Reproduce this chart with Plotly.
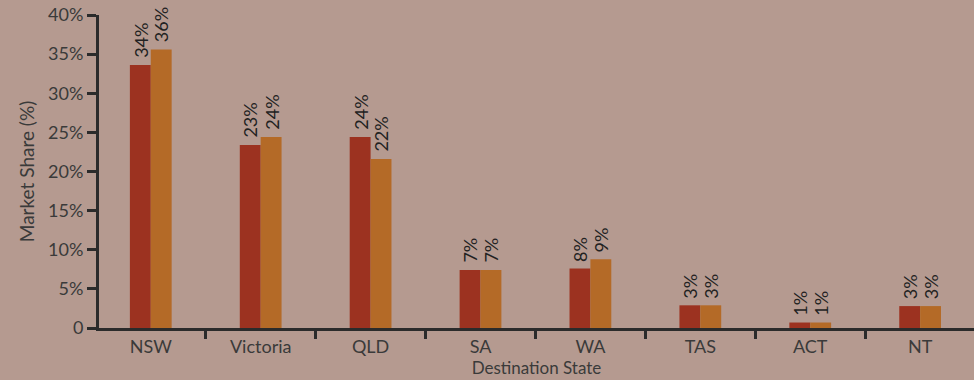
import plotly.graph_objects as go

# Market share by destination state, two periods
states = ["NSW", "Victoria", "QLD", "SA", "WA", "TAS", "ACT", "NT"]
share_a = [33.6, 23.4, 24.4, 7.4, 7.6, 2.9, 0.7, 2.8]
share_b = [35.6, 24.4, 21.6, 7.4, 8.8, 2.9, 0.7, 2.8]
y_ticks = [0, 5, 10, 15, 20, 25, 30, 35, 40]
y_tick_text = ["0", "5%", "10%", "15%", "20%", "25%", "30%", "35%", "40%"]

BG = "#b59a90"
INK = "#2b2b2b"
TXT = "#3a3a3a"
FONT = "Lato, 'Open Sans', sans-serif"

series = [(share_a, "#9c3220", -10.5), (share_b, "#b46a27", 10.5)]

fig = go.Figure()
for vals, color, _ in series:
    fig.add_trace(go.Bar(
        x=states, y=vals,
        marker=dict(color=color, line=dict(width=0)),
        showlegend=False,
    ))

# value labels, rotated and sitting on top of each bar
for vals, _, shift in series:
    for s, v in zip(states, vals):
        fig.add_annotation(
            x=s, y=v, xref="x", yref="y",
            text=f"{v:.0f}%", textangle=-90,
            showarrow=False, xanchor="center", yanchor="bottom",
            xshift=shift, yshift=5,
            font=dict(family=FONT, size=18, color="#222222"),
        )

fig.update_layout(
    width=974, height=380,
    margin=dict(l=99, r=0, t=15, b=52),
    paper_bgcolor=BG, plot_bgcolor=BG,
    barmode="group", bargap=0.62, bargroupgap=0,
    font=dict(family=FONT, color=TXT),
    xaxis=dict(
        range=[-0.471, 7.49],
        showline=True, linecolor=INK, linewidth=3,
        ticks="outside", tickson="boundaries", ticklen=8, tickwidth=3, tickcolor=INK,
        tickfont=dict(size=18, color=TXT),
        title=dict(text="Destination State", font=dict(size=17, color=TXT), standoff=6),
        showgrid=False, zeroline=False,
    ),
    yaxis=dict(
        range=[0, 40],
        tickvals=y_ticks, ticktext=y_tick_text,
        showline=True, linecolor=INK, linewidth=3,
        ticks="outside", ticklen=9, tickwidth=3, tickcolor=INK,
        tickfont=dict(size=18, color=TXT),
        title=dict(text="Market Share (%)", font=dict(size=19, color=TXT), standoff=9),
        showgrid=False, zeroline=False,
    ),
)

fig.write_html("out.html")
